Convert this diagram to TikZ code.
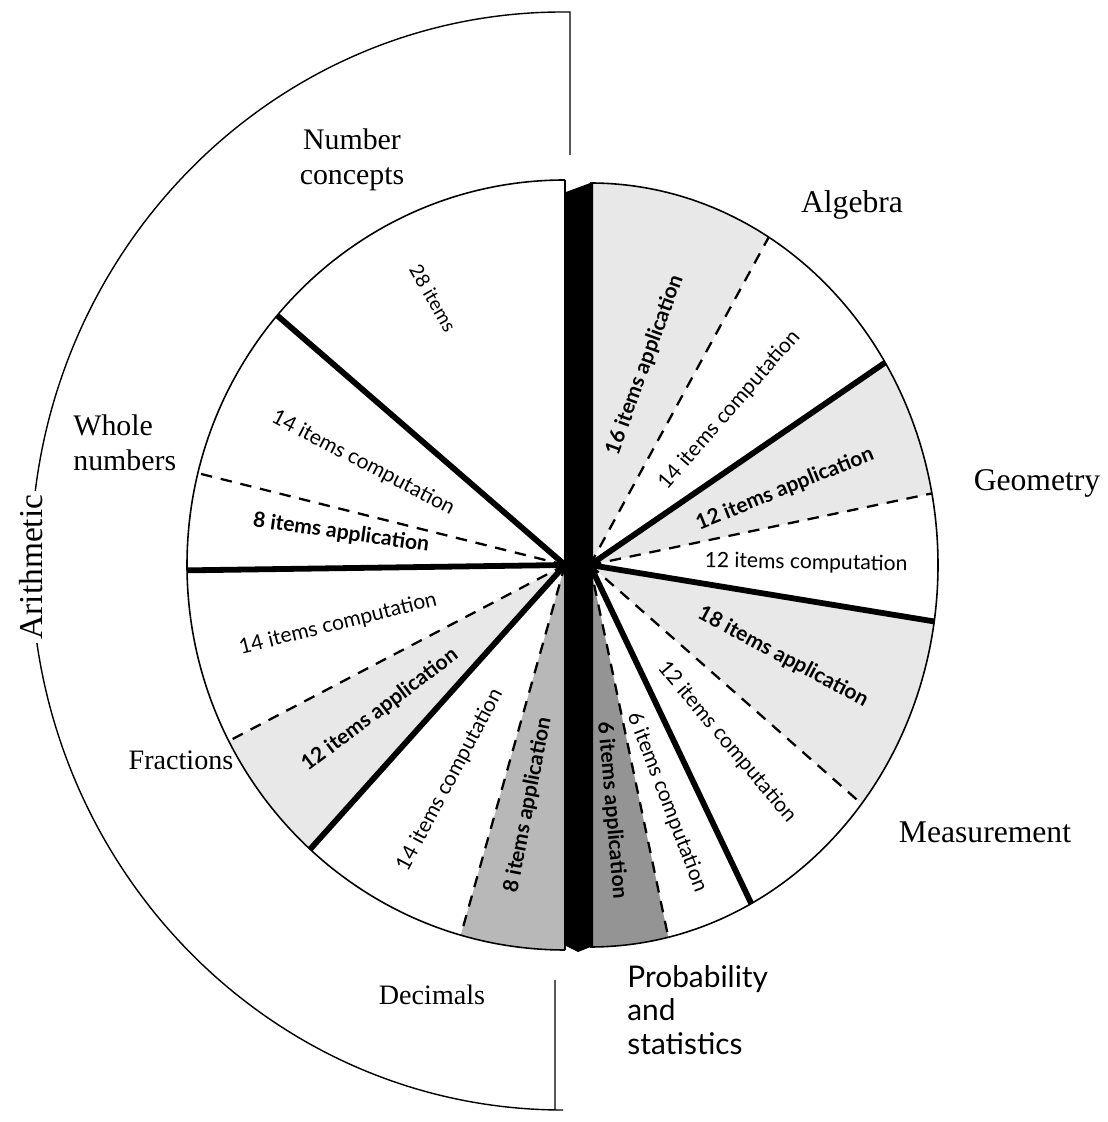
\documentclass[tikz,border=0pt]{standalone}
\usepackage{fontspec}
\setmainfont{Liberation Serif}
\newfontfamily\optfont{Lato}
\usetikzlibrary{calc}
\begin{document}
\begin{tikzpicture}[x=0.02cm,y=0.02cm,
  outline/.style={line width=0.9pt},
  thickline/.style={line width=3.3pt},
  dashline/.style={line width=1.3pt, dash pattern=on 6.5pt off 5pt},
  lightshade/.style={fill=black!9},
  midshade/.style={fill=black!28},
  darkshade/.style={fill=black!42},
  biglab/.style={font=\fontsize{17}{20}\selectfont, inner sep=0pt, align=center},
  problab/.style={font=\optfont\fontsize{17}{19}\selectfont, inner sep=0pt, align=left},
  comp/.style={font=\optfont\fontsize{12}{14}\selectfont, inner sep=0pt},
  appl/.style={font=\optfont\bfseries\fontsize{12}{14}\selectfont, inner sep=0pt},
  bracket/.style={line width=0.8pt},
]
\useasboundingbox (0,0) rectangle (1108,1122);
\coordinate (CL) at (565,557);
\coordinate (CR) at (590,557);

% ---------- shaded sectors ----------
\fill[lightshade] (CL) -- ($(CL)+(207.2:378 and 385)$) arc[start angle=207.2,end angle=227.6,x radius=378,y radius=385] -- cycle;
\fill[midshade] (CL) -- ($(CL)+(254:378 and 385)$) arc[start angle=254,end angle=270,x radius=378,y radius=385] -- cycle;
\fill[lightshade] (CR) -- ($(CR)+(59.1:348 and 382)$) arc[start angle=59.1,end angle=90,x radius=348,y radius=382] -- cycle;
\fill[lightshade] (CR) -- ($(CR)+(10.8:348 and 382)$) arc[start angle=10.8,end angle=32,x radius=348,y radius=382] -- cycle;
\fill[lightshade] (CR) -- ($(CR)+(-38.7:348 and 382)$) arc[start angle=-38.7,end angle=-8.5,x radius=348,y radius=382] -- cycle;
\fill[darkshade] (CR) -- ($(CR)+(-90:348 and 382)$) arc[start angle=-90,end angle=-77,x radius=348,y radius=382] -- cycle;

% ---------- outlines ----------
\draw[outline] ($(CL)+(90:378 and 385)$) arc[start angle=90,end angle=270,x radius=378,y radius=385];
\draw[outline] ($(CR)+(90:348 and 382)$) arc[start angle=90,end angle=-90,x radius=348,y radius=382];
\draw[outline] (565,942) -- (565,172);

% ---------- black side band ----------
\fill (566,930) -- (593,940) -- (593,176) -- (578,170) -- (566,176) -- cycle;

% ---------- dashed dividers ----------
\draw[dashline] (CL) -- ($(CL)+(166.2:378 and 385)$);
\draw[dashline] (CL) -- ($(CL)+(207.2:378 and 385)$);
\draw[dashline] (CL) -- ($(CL)+(254:378 and 385)$);
\draw[dashline] (CR) -- ($(CR)+(59.1:348 and 382)$);
\draw[dashline] (CR) -- ($(CR)+(10.8:348 and 382)$);
\draw[dashline] (CR) -- ($(CR)+(-38.7:348 and 382)$);
\draw[dashline] (CR) -- ($(CR)+(-77:348 and 382)$);

% ---------- thick dividers ----------
\draw[thickline] (CL) -- ($(CL)+(139.6:378 and 385)$);
\draw[thickline] (CL) -- ($(CL)+(180.8:378 and 385)$);
\draw[thickline] (CL) -- ($(CL)+(227.6:378 and 385)$);
\draw[thickline] (CR) -- ($(CR)+(32:348 and 382)$);
\draw[thickline] (CR) -- ($(CR)+(-8.5:348 and 382)$);
\draw[thickline] (CR) -- ($(CR)+(-62.4:348 and 382)$);

% ---------- Arithmetic bracket ----------
\draw[bracket] (570,967) -- (570,1110) -- (563,1110)
  arc[start angle=90,end angle=270,x radius=532,y radius=549]
  -- (555,12) -- (555,142);
\node[fill=white, inner sep=2pt, rotate=90, font=\fontsize{19}{21}\selectfont] (arith) at (31,555) {Arithmetic};

% ---------- category labels ----------
\node[biglab] (nc) at (352,962) {Number\\concepts};
\node[biglab, align=left, anchor=west] (wn) at (73,679) {Whole\\numbers};
\node[biglab, font=\fontsize{16}{19}\selectfont] (fr) at (181,362) {Fractions};
\node[biglab, font=\fontsize{16}{19}\selectfont] (dec) at (432,127) {Decimals};
\node[problab, anchor=west] (prob) at (627,112) {Probability\\and\\statistics};
\node[biglab, font=\fontsize{18}{20}\selectfont] (meas) at (985,290) {Measurement};
\node[biglab, font=\fontsize{18}{20}\selectfont] (geo) at (1037,639) {Geometry};
\node[biglab, font=\fontsize{18}{20}\selectfont] (alg) at (852,917) {Algebra};

% ---------- item labels ----------
\node[comp, font=\optfont\fontsize{11}{13}\selectfont, rotate=-60] (l1) at (433,824) {28 items};
\node[comp, rotate=-27.4] (l2) at (363,659) {14 items computation};
\node[appl, rotate=-8] (l3) at (341,589) {8 items application};
\node[comp, rotate=14] (l4) at (338,498) {14 items computation};
\node[appl, rotate=37] (l5) at (380,412) {12 items application};
\node[comp, rotate=62] (l6) at (450,342) {14 items computation};
\node[appl, rotate=79] (l7) at (528,317) {8 items application};
\node[appl, rotate=-85] (l8) at (612,312) {6 items application};
\node[comp, rotate=-69] (l9) at (667,320) {6 items computation};
\node[comp, rotate=-50] (l10) at (727,380) {12 items computation};
\node[appl, rotate=-28] (l11) at (783,465) {18 items application};
\node[comp, rotate=-1] (l12) at (806,559) {12 items computation};
\node[appl, rotate=22] (l13) at (785,633) {12 items application};
\node[comp, rotate=49] (l14) at (730,712) {14 items computation};
\node[appl, rotate=70] (l15) at (645,757) {16 items application};
\end{tikzpicture}
\end{document}
